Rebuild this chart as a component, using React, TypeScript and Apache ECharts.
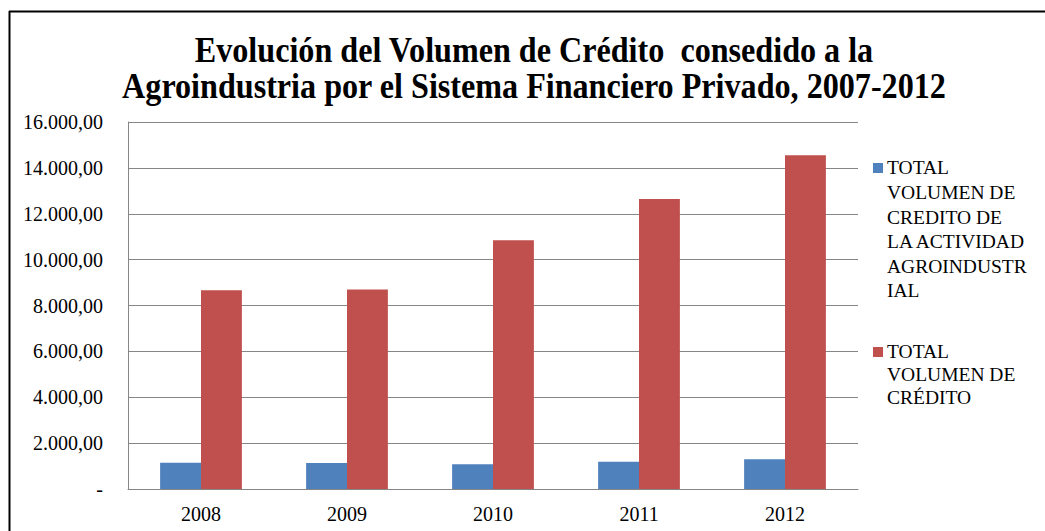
import React, { useEffect, useRef } from "react";
import * as echarts from "echarts";

const titleLines = [
  "Evolución del Volumen de Crédito  consedido a la",
  "Agroindustria por el Sistema Financiero Privado, 2007-2012",
];
const categories = ["2008", "2009", "2010", "2011", "2012"];
const seriesNames = [
  "TOTAL VOLUMEN DE CREDITO DE LA ACTIVIDAD AGROINDUSTRIAL",
  "TOTAL VOLUMEN DE CRÉDITO",
];
const legendLines = [
  ["TOTAL", "VOLUMEN DE", "CREDITO DE", "LA ACTIVIDAD", "AGROINDUSTR", "IAL"],
  ["TOTAL", "VOLUMEN DE", "CRÉDITO"],
];
const agroValues = [1140, 1135, 1080, 1190, 1295];
const totalValues = [8670, 8700, 10850, 12640, 14550];
const colors = ["#4F81BD", "#C0504D"];

const fmt = (v: number) => {
  if (v === 0) return "-";
  const s = Math.round(v).toString().replace(/\B(?=(\d{3})+(?!\d))/g, ".");
  return s + ",00";
};

export default function App() {
  const ref = useRef<HTMLDivElement>(null);
  useEffect(() => {
    if (!ref.current) return;
    const chart = echarts.init(ref.current, null, { renderer: "svg" });
    const serif = "Liberation Serif, serif";
    const legendGraphics: any[] = [];
    const legendTops = [168, 352];
    legendLines.forEach((lines, i) => {
      legendGraphics.push({
        type: "rect",
        shape: { x: 873, y: legendTops[i] - 5, width: 10, height: 10 },
        style: { fill: colors[i] },
      });
      legendGraphics.push({
        type: "text",
        x: 887,
        y: legendTops[i] - 12.5,
        style: {
          text: lines.join("\n"),
          fontFamily: serif,
          fontSize: 19.5,
          fill: "#000",
          lineHeight: i === 0 ? 24.6 : 23,
          verticalAlign: "top",
        },
      });
    });
    chart.setOption({
      animation: false,
      backgroundColor: "#fff",
      grid: { left: 128, right: 187, top: 122, bottom: 42, containLabel: false },
      xAxis: {
        type: "category",
        data: categories,
        axisLine: { lineStyle: { color: "#868686", width: 1 } },
        axisTick: { show: false },
        axisLabel: { color: "#000", fontFamily: serif, fontSize: 20, margin: 15 },
      },
      yAxis: {
        type: "value",
        min: 0,
        max: 16000,
        interval: 2000,
        axisLine: { show: true, lineStyle: { color: "#868686", width: 1 } },
        axisTick: { show: false },
        splitLine: { lineStyle: { color: "#868686", width: 1 } },
        axisLabel: {
          color: "#000",
          fontFamily: serif,
          fontSize: 20,
          margin: 25,
          formatter: (v: number) => fmt(v),
        },
      },
      series: [
        {
          name: seriesNames[0],
          type: "bar",
          data: agroValues,
          itemStyle: { color: colors[0] },
          barGap: "0%",
          barCategoryGap: "44%",
        },
        {
          name: seriesNames[1],
          type: "bar",
          data: totalValues,
          itemStyle: { color: colors[1] },
          barGap: "0%",
          barCategoryGap: "44%",
        },
      ],
      graphic: [
        {
          type: "line",
          shape: { x1: 9, y1: 11.5, x2: 1045, y2: 11.5 },
          style: { stroke: "#000", lineWidth: 2 },
        },
        {
          type: "line",
          shape: { x1: 9.5, y1: 11, x2: 9.5, y2: 531 },
          style: { stroke: "#000", lineWidth: 2 },
        },
        {
          type: "text",
          x: 534,
          y: 32,
          scaleX: 0.893,
          style: {
            text: titleLines[0],
            fontFamily: serif,
            fontWeight: "bold",
            fontSize: 36,
            fill: "#000",
            align: "center",
            verticalAlign: "top",
          },
        },
        {
          type: "text",
          x: 534,
          y: 68,
          scaleX: 0.893,
          style: {
            text: titleLines[1],
            fontFamily: serif,
            fontWeight: "bold",
            fontSize: 36,
            fill: "#000",
            align: "center",
            verticalAlign: "top",
          },
        },
        ...legendGraphics,
      ],
    });
    return () => chart.dispose();
  }, []);
  return (
    <div
      ref={ref}
      style={{ position: "fixed", left: 0, top: 0, width: 1045, height: 531 }}
    />
  );
}
